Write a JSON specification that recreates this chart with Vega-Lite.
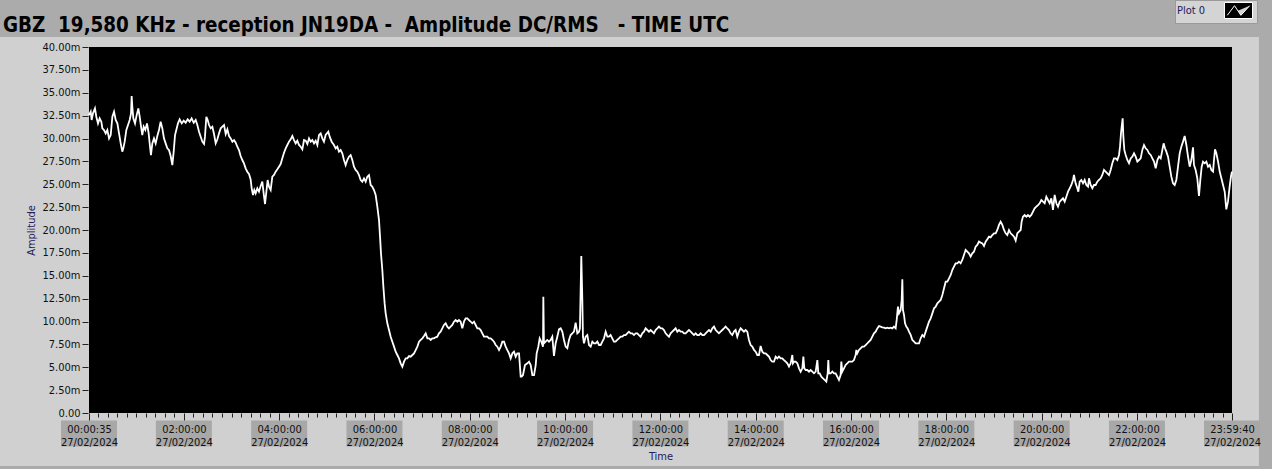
{
  "$schema": "https://vega.github.io/schema/vega-lite/v6.json",
  "width": 1143,
  "height": 366,
  "autosize": "none",
  "padding": {"left": 89, "top": 47, "right": 40, "bottom": 56},
  "background": "#ababab",
  "config": {"view": {"stroke": null}, "font": "DejaVu Sans Condensed"},
  "title": {
    "text": "GBZ\u00a0\u00a019,580 KHz - reception JN19DA -\u00a0\u00a0Amplitude DC/RMS\u00a0\u00a0\u00a0- TIME UTC",
    "anchor": "start",
    "frame": "group",
    "dx": -86,
    "dy": 53,
    "offset": 0,
    "baseline": "alphabetic",
    "fontSize": 20.4,
    "fontWeight": "bold",
    "color": "#000000",
    "font": "DejaVu Sans Condensed"
  },
  "datasets": {
    "ticks": [
      {"minute": 0.58}, {"minute": 120}, {"minute": 240}, {"minute": 360}, {"minute": 480}, {"minute": 600}, {"minute": 720},
      {"minute": 840}, {"minute": 960}, {"minute": 1080}, {"minute": 1200}, {"minute": 1320}, {"minute": 1439.67}
    ],
    "amp": [
      {"minute":0.6,"amplitude":32.56},{"minute":2.7,"amplitude":32.93},{"minute":3.9,"amplitude":32.02},{"minute":5.6,"amplitude":32.75},{"minute":8.1,"amplitude":33.29},{"minute":9.8,"amplitude":32.38},{"minute":11.9,"amplitude":31.65},{"minute":14.0,"amplitude":32.2},{"minute":16.1,"amplitude":31.84},{"minute":17.4,"amplitude":31.11},{"minute":19.5,"amplitude":30.93},{"minute":21.6,"amplitude":30.56},{"minute":23.7,"amplitude":30.93},{"minute":25.8,"amplitude":30.01},{"minute":27.9,"amplitude":30.38},{"minute":30.0,"amplitude":32.38},{"minute":32.1,"amplitude":32.93},{"minute":34.2,"amplitude":32.02},{"minute":36.3,"amplitude":31.65},{"minute":38.4,"amplitude":30.56},{"minute":40.5,"amplitude":29.47},{"minute":42.5,"amplitude":28.56},{"minute":43.8,"amplitude":28.92},{"minute":45.5,"amplitude":29.65},{"minute":47.6,"amplitude":30.93},{"minute":49.7,"amplitude":31.47},{"minute":51.8,"amplitude":32.02},{"minute":53.5,"amplitude":32.75},{"minute":54.3,"amplitude":34.64},{"minute":55.1,"amplitude":33.48},{"minute":56.4,"amplitude":32.2},{"minute":58.5,"amplitude":31.65},{"minute":60.6,"amplitude":32.56},{"minute":62.7,"amplitude":33.29},{"minute":64.4,"amplitude":32.38},{"minute":66.1,"amplitude":31.29},{"minute":67.7,"amplitude":30.38},{"minute":69.4,"amplitude":31.29},{"minute":71.5,"amplitude":30.93},{"minute":73.6,"amplitude":31.65},{"minute":75.7,"amplitude":30.56},{"minute":77.4,"amplitude":29.1},{"minute":78.6,"amplitude":28.19},{"minute":80.3,"amplitude":29.47},{"minute":82.4,"amplitude":30.01},{"minute":84.5,"amplitude":29.47},{"minute":86.6,"amplitude":30.27},{"minute":88.7,"amplitude":30.93},{"minute":90.8,"amplitude":31.84},{"minute":92.9,"amplitude":31.11},{"minute":95.0,"amplitude":30.01},{"minute":97.1,"amplitude":29.47},{"minute":99.2,"amplitude":28.92},{"minute":101.3,"amplitude":28.74},{"minute":103.4,"amplitude":28.08},{"minute":105.5,"amplitude":27.1},{"minute":107.2,"amplitude":28.56},{"minute":108.9,"amplitude":30.38},{"minute":110.5,"amplitude":30.93},{"minute":112.6,"amplitude":31.65},{"minute":114.7,"amplitude":32.09},{"minute":117.3,"amplitude":31.65},{"minute":119.8,"amplitude":31.95},{"minute":122.3,"amplitude":31.73},{"minute":124.8,"amplitude":32.09},{"minute":127.3,"amplitude":31.84},{"minute":129.8,"amplitude":32.2},{"minute":132.4,"amplitude":31.73},{"minute":134.9,"amplitude":32.02},{"minute":137.0,"amplitude":31.47},{"minute":139.1,"amplitude":30.74},{"minute":141.2,"amplitude":30.2},{"minute":143.3,"amplitude":29.65},{"minute":145.4,"amplitude":29.4},{"minute":146.6,"amplitude":30.2},{"minute":148.3,"amplitude":32.38},{"minute":150.0,"amplitude":32.02},{"minute":151.7,"amplitude":31.47},{"minute":153.8,"amplitude":31.11},{"minute":155.9,"amplitude":31.29},{"minute":158.0,"amplitude":30.49},{"minute":160.1,"amplitude":29.47},{"minute":162.2,"amplitude":29.91},{"minute":164.3,"amplitude":30.56},{"minute":166.4,"amplitude":31.11},{"minute":168.5,"amplitude":31.29},{"minute":170.6,"amplitude":31.47},{"minute":172.7,"amplitude":30.49},{"minute":174.8,"amplitude":31.0},{"minute":176.9,"amplitude":30.27},{"minute":179.0,"amplitude":30.01},{"minute":181.1,"amplitude":29.65},{"minute":183.2,"amplitude":29.83},{"minute":185.3,"amplitude":29.54},{"minute":187.3,"amplitude":29.1},{"minute":189.4,"amplitude":28.74},{"minute":191.5,"amplitude":28.08},{"minute":193.6,"amplitude":27.65},{"minute":195.7,"amplitude":27.28},{"minute":197.8,"amplitude":26.74},{"minute":199.9,"amplitude":26.37},{"minute":202.0,"amplitude":26.12},{"minute":204.1,"amplitude":25.53},{"minute":205.4,"amplitude":24.55},{"minute":207.1,"amplitude":23.82},{"minute":208.7,"amplitude":24.37},{"minute":210.4,"amplitude":24.0},{"minute":212.5,"amplitude":24.55},{"minute":214.6,"amplitude":24.19},{"minute":216.7,"amplitude":24.81},{"minute":218.8,"amplitude":25.28},{"minute":220.5,"amplitude":24.0},{"minute":222.2,"amplitude":22.84},{"minute":223.9,"amplitude":24.19},{"minute":225.5,"amplitude":25.46},{"minute":227.2,"amplitude":24.73},{"minute":229.3,"amplitude":24.37},{"minute":231.4,"amplitude":25.83},{"minute":233.5,"amplitude":26.01},{"minute":235.6,"amplitude":26.37},{"minute":237.7,"amplitude":26.63},{"minute":239.8,"amplitude":26.92},{"minute":241.9,"amplitude":27.21},{"minute":244.0,"amplitude":27.83},{"minute":246.1,"amplitude":28.45},{"minute":248.2,"amplitude":28.92},{"minute":250.3,"amplitude":29.29},{"minute":252.4,"amplitude":29.65},{"minute":254.5,"amplitude":29.91},{"minute":256.6,"amplitude":30.27},{"minute":258.7,"amplitude":29.83},{"minute":260.8,"amplitude":29.47},{"minute":262.9,"amplitude":29.76},{"minute":265.0,"amplitude":29.29},{"minute":267.1,"amplitude":29.1},{"minute":269.2,"amplitude":28.81},{"minute":271.3,"amplitude":29.83},{"minute":273.4,"amplitude":29.76},{"minute":275.5,"amplitude":29.4},{"minute":277.6,"amplitude":30.01},{"minute":279.7,"amplitude":29.65},{"minute":281.8,"amplitude":29.83},{"minute":283.9,"amplitude":29.47},{"minute":286.0,"amplitude":29.76},{"minute":288.1,"amplitude":29.29},
      {"minute":290.2,"amplitude":30.38},{"minute":292.3,"amplitude":30.56},{"minute":294.3,"amplitude":30.02},{"minute":296.4,"amplitude":29.65},{"minute":298.5,"amplitude":30.38},{"minute":301.9,"amplitude":30.74},{"minute":303.6,"amplitude":30.2},{"minute":306.1,"amplitude":29.65},{"minute":309.0,"amplitude":29.29},{"minute":311.1,"amplitude":28.92},{"minute":313.2,"amplitude":29.1},{"minute":315.3,"amplitude":28.56},{"minute":317.4,"amplitude":28.74},{"minute":319.5,"amplitude":28.38},{"minute":321.6,"amplitude":27.65},{"minute":323.7,"amplitude":27.1},{"minute":325.8,"amplitude":27.65},{"minute":327.9,"amplitude":28.01},{"minute":330.0,"amplitude":28.19},{"minute":332.1,"amplitude":27.65},{"minute":334.2,"amplitude":26.92},{"minute":336.3,"amplitude":26.56},{"minute":338.4,"amplitude":26.37},{"minute":340.5,"amplitude":26.01},{"minute":342.6,"amplitude":25.46},{"minute":344.7,"amplitude":25.28},{"minute":346.8,"amplitude":25.64},{"minute":348.9,"amplitude":25.28},{"minute":351.0,"amplitude":25.83},{"minute":353.1,"amplitude":26.01},{"minute":355.2,"amplitude":24.92},{"minute":357.3,"amplitude":24.73},{"minute":359.4,"amplitude":24.37},{"minute":361.5,"amplitude":23.82},{"minute":363.6,"amplitude":22.55},{"minute":365.7,"amplitude":21.09},{"minute":367.0,"amplitude":19.27},{"minute":368.2,"amplitude":17.45},{"minute":369.9,"amplitude":15.63},{"minute":371.2,"amplitude":13.81},{"minute":372.8,"amplitude":11.98},{"minute":374.1,"amplitude":10.89},{"minute":376.2,"amplitude":9.8},{"minute":378.3,"amplitude":9.07},{"minute":380.4,"amplitude":8.34},{"minute":382.5,"amplitude":7.79},{"minute":384.6,"amplitude":7.25},{"minute":386.7,"amplitude":6.7},{"minute":388.8,"amplitude":6.34},{"minute":390.9,"amplitude":5.97},{"minute":393.0,"amplitude":5.43},{"minute":395.1,"amplitude":5.06},{"minute":397.2,"amplitude":5.61},{"minute":399.3,"amplitude":5.97},{"minute":401.4,"amplitude":5.97},{"minute":403.5,"amplitude":6.23},{"minute":405.6,"amplitude":6.16},{"minute":407.7,"amplitude":6.34},{"minute":409.8,"amplitude":6.52},{"minute":411.9,"amplitude":6.88},{"minute":414.0,"amplitude":7.25},{"minute":416.1,"amplitude":7.79},{"minute":418.2,"amplitude":7.98},{"minute":420.3,"amplitude":8.16},{"minute":422.4,"amplitude":8.41},{"minute":424.5,"amplitude":8.7},{"minute":426.6,"amplitude":8.16},{"minute":428.7,"amplitude":8.16},{"minute":430.8,"amplitude":7.98},{"minute":432.8,"amplitude":8.16},{"minute":434.9,"amplitude":8.16},{"minute":437.0,"amplitude":8.27},{"minute":439.1,"amplitude":8.34},{"minute":441.2,"amplitude":8.7},{"minute":443.3,"amplitude":8.89},{"minute":445.4,"amplitude":9.25},{"minute":447.5,"amplitude":9.62},{"minute":449.6,"amplitude":9.8},{"minute":451.7,"amplitude":9.43},{"minute":453.8,"amplitude":9.25},{"minute":455.9,"amplitude":9.43},{"minute":458.0,"amplitude":9.62},{"minute":460.1,"amplitude":9.98},{"minute":462.2,"amplitude":10.16},{"minute":464.3,"amplitude":9.98},{"minute":466.4,"amplitude":10.16},{"minute":468.5,"amplitude":9.98},{"minute":470.6,"amplitude":9.25},{"minute":472.7,"amplitude":9.98},{"minute":474.8,"amplitude":10.34},{"minute":476.9,"amplitude":10.34},{"minute":479.0,"amplitude":10.16},{"minute":481.1,"amplitude":9.98},{"minute":483.2,"amplitude":9.8},{"minute":485.3,"amplitude":9.98},{"minute":487.4,"amplitude":9.62},{"minute":489.5,"amplitude":9.25},{"minute":491.6,"amplitude":9.25},{"minute":493.7,"amplitude":9.07},{"minute":495.8,"amplitude":8.7},{"minute":497.9,"amplitude":8.34},{"minute":500.0,"amplitude":8.34},{"minute":502.1,"amplitude":8.34},{"minute":504.2,"amplitude":8.16},{"minute":506.3,"amplitude":8.16},{"minute":508.4,"amplitude":7.98},{"minute":510.5,"amplitude":7.79},{"minute":512.6,"amplitude":7.43},{"minute":514.7,"amplitude":7.25},{"minute":516.8,"amplitude":6.88},{"minute":518.9,"amplitude":7.25},{"minute":521.0,"amplitude":7.79},{"minute":523.1,"amplitude":7.79},{"minute":525.2,"amplitude":7.25},{"minute":527.3,"amplitude":6.88},{"minute":529.4,"amplitude":6.52},{"minute":531.5,"amplitude":5.97},{"minute":533.6,"amplitude":6.52},{"minute":535.7,"amplitude":6.7},{"minute":537.8,"amplitude":6.16},{"minute":539.9,"amplitude":6.52},{"minute":542.0,"amplitude":6.52},{"minute":544.1,"amplitude":3.97},{"minute":545.3,"amplitude":3.97},{"minute":547.0,"amplitude":4.15},{"minute":549.5,"amplitude":5.24},{"minute":552.5,"amplitude":5.43},{"minute":554.6,"amplitude":5.61},{"minute":556.7,"amplitude":5.24},{"minute":558.8,"amplitude":4.15},{"minute":560.9,"amplitude":4.15},{"minute":563.0,"amplitude":5.24},{"minute":564.2,"amplitude":6.52},{"minute":566.3,"amplitude":7.25},{"minute":568.0,"amplitude":8.16},{"minute":570.1,"amplitude":7.79},{"minute":572.2,"amplitude":7.25},{"minute":572.6,"amplitude":12.71},{"minute":573.4,"amplitude":7.61},{"minute":575.5,"amplitude":7.79},{"minute":577.6,"amplitude":7.98},
      {"minute":579.7,"amplitude":7.8},{"minute":581.8,"amplitude":7.98},{"minute":583.9,"amplitude":8.34},{"minute":586.0,"amplitude":6.23},{"minute":588.1,"amplitude":7.61},{"minute":590.2,"amplitude":8.34},{"minute":592.3,"amplitude":9.14},{"minute":594.4,"amplitude":9.25},{"minute":596.5,"amplitude":8.89},{"minute":598.6,"amplitude":7.98},{"minute":600.7,"amplitude":7.25},{"minute":602.8,"amplitude":7.07},{"minute":604.9,"amplitude":7.98},{"minute":607.0,"amplitude":8.52},{"minute":609.1,"amplitude":8.71},{"minute":611.2,"amplitude":8.89},{"minute":613.3,"amplitude":9.87},{"minute":615.4,"amplitude":8.71},{"minute":617.5,"amplitude":8.89},{"minute":618.7,"amplitude":9.25},{"minute":620.4,"amplitude":17.16},{"minute":621.7,"amplitude":12.35},{"minute":622.5,"amplitude":8.34},{"minute":623.8,"amplitude":7.61},{"minute":625.9,"amplitude":8.34},{"minute":628.0,"amplitude":8.52},{"minute":630.1,"amplitude":7.43},{"minute":632.2,"amplitude":7.25},{"minute":634.3,"amplitude":7.8},{"minute":636.4,"amplitude":7.61},{"minute":638.5,"amplitude":7.61},{"minute":640.6,"amplitude":7.8},{"minute":642.7,"amplitude":7.43},{"minute":644.8,"amplitude":7.43},{"minute":646.9,"amplitude":7.8},{"minute":649.0,"amplitude":8.16},{"minute":651.1,"amplitude":8.89},{"minute":653.2,"amplitude":8.34},{"minute":655.2,"amplitude":8.34},{"minute":657.3,"amplitude":8.52},{"minute":659.4,"amplitude":8.16},{"minute":661.5,"amplitude":7.8},{"minute":663.6,"amplitude":7.8},{"minute":665.7,"amplitude":7.98},{"minute":667.8,"amplitude":8.16},{"minute":669.9,"amplitude":8.34},{"minute":672.0,"amplitude":8.34},{"minute":674.1,"amplitude":8.52},{"minute":676.2,"amplitude":8.52},{"minute":678.3,"amplitude":8.71},{"minute":680.4,"amplitude":8.89},{"minute":682.5,"amplitude":8.71},{"minute":684.6,"amplitude":8.71},{"minute":686.7,"amplitude":8.52},{"minute":688.8,"amplitude":8.71},{"minute":690.9,"amplitude":8.71},{"minute":693.0,"amplitude":8.52},{"minute":695.1,"amplitude":8.34},{"minute":697.2,"amplitude":8.71},{"minute":699.3,"amplitude":8.89},{"minute":701.4,"amplitude":9.25},{"minute":703.5,"amplitude":9.07},{"minute":705.6,"amplitude":8.89},{"minute":707.7,"amplitude":9.07},{"minute":709.8,"amplitude":8.89},{"minute":711.9,"amplitude":8.71},{"minute":714.0,"amplitude":9.07},{"minute":716.1,"amplitude":9.25},{"minute":718.2,"amplitude":9.44},{"minute":720.3,"amplitude":9.25},{"minute":722.4,"amplitude":9.25},{"minute":724.5,"amplitude":9.07},{"minute":726.6,"amplitude":8.71},{"minute":728.7,"amplitude":8.52},{"minute":730.8,"amplitude":8.34},{"minute":732.9,"amplitude":8.71},{"minute":735.0,"amplitude":8.89},{"minute":737.1,"amplitude":9.07},{"minute":739.2,"amplitude":9.25},{"minute":741.3,"amplitude":8.89},{"minute":743.4,"amplitude":9.07},{"minute":745.5,"amplitude":8.89},{"minute":747.6,"amplitude":8.89},{"minute":749.7,"amplitude":8.71},{"minute":751.8,"amplitude":8.71},{"minute":753.9,"amplitude":8.89},{"minute":756.0,"amplitude":9.07},{"minute":758.1,"amplitude":8.89},{"minute":760.2,"amplitude":8.71},{"minute":762.3,"amplitude":8.52},{"minute":764.4,"amplitude":8.71},{"minute":766.5,"amplitude":8.52},{"minute":768.6,"amplitude":8.52},{"minute":770.7,"amplitude":8.71},{"minute":772.8,"amplitude":8.52},{"minute":774.9,"amplitude":8.52},{"minute":777.0,"amplitude":8.71},{"minute":779.1,"amplitude":8.89},{"minute":781.2,"amplitude":9.07},{"minute":783.3,"amplitude":8.89},{"minute":785.4,"amplitude":9.25},{"minute":787.5,"amplitude":9.44},{"minute":789.6,"amplitude":9.07},{"minute":791.6,"amplitude":8.89},{"minute":793.7,"amplitude":8.71},{"minute":795.8,"amplitude":8.89},{"minute":797.9,"amplitude":9.07},{"minute":800.0,"amplitude":9.25},{"minute":802.1,"amplitude":9.44},{"minute":804.2,"amplitude":9.25},{"minute":806.3,"amplitude":9.07},{"minute":808.4,"amplitude":8.71},{"minute":810.5,"amplitude":8.52},{"minute":812.6,"amplitude":8.89},{"minute":814.7,"amplitude":9.07},{"minute":816.8,"amplitude":8.34},{"minute":818.9,"amplitude":8.89},{"minute":821.0,"amplitude":9.25},{"minute":823.1,"amplitude":9.07},{"minute":825.2,"amplitude":8.89},{"minute":827.3,"amplitude":9.07},{"minute":829.4,"amplitude":8.89},{"minute":831.5,"amplitude":7.98},{"minute":833.6,"amplitude":7.43},{"minute":835.7,"amplitude":7.25},{"minute":837.8,"amplitude":6.89},{"minute":839.9,"amplitude":6.7},{"minute":842.0,"amplitude":6.34},{"minute":844.1,"amplitude":6.34},{"minute":846.2,"amplitude":7.32},{"minute":848.3,"amplitude":6.7},{"minute":850.4,"amplitude":6.52},{"minute":852.5,"amplitude":6.52},{"minute":854.6,"amplitude":6.34},{"minute":856.7,"amplitude":6.16},{"minute":858.8,"amplitude":5.79},{"minute":860.9,"amplitude":5.61},{"minute":863.0,"amplitude":5.61},{"minute":865.1,"amplitude":6.16},{"minute":867.2,"amplitude":5.97},
      {"minute":869.3,"amplitude":6.16},{"minute":871.4,"amplitude":5.98},{"minute":873.5,"amplitude":5.98},{"minute":875.6,"amplitude":5.79},{"minute":877.7,"amplitude":5.61},{"minute":879.8,"amplitude":5.43},{"minute":881.9,"amplitude":5.07},{"minute":884.0,"amplitude":5.43},{"minute":886.1,"amplitude":6.34},{"minute":886.9,"amplitude":5.43},{"minute":888.2,"amplitude":5.61},{"minute":890.3,"amplitude":5.61},{"minute":892.4,"amplitude":5.43},{"minute":894.5,"amplitude":4.88},{"minute":896.6,"amplitude":4.52},{"minute":898.7,"amplitude":4.88},{"minute":900.0,"amplitude":6.16},{"minute":901.2,"amplitude":4.88},{"minute":902.9,"amplitude":4.7},{"minute":905.0,"amplitude":4.7},{"minute":907.1,"amplitude":4.52},{"minute":909.2,"amplitude":4.7},{"minute":911.3,"amplitude":4.52},{"minute":913.4,"amplitude":4.34},{"minute":915.5,"amplitude":4.52},{"minute":917.6,"amplitude":5.79},{"minute":918.8,"amplitude":4.34},{"minute":920.5,"amplitude":4.34},{"minute":922.6,"amplitude":3.97},{"minute":924.7,"amplitude":3.79},{"minute":926.8,"amplitude":3.61},{"minute":928.9,"amplitude":3.43},{"minute":930.6,"amplitude":4.34},{"minute":931.4,"amplitude":5.79},{"minute":932.3,"amplitude":4.34},{"minute":934.4,"amplitude":4.34},{"minute":936.5,"amplitude":4.52},{"minute":938.5,"amplitude":4.34},{"minute":940.6,"amplitude":4.34},{"minute":942.7,"amplitude":3.97},{"minute":944.8,"amplitude":3.61},{"minute":946.9,"amplitude":4.15},{"minute":947.8,"amplitude":5.61},{"minute":949.0,"amplitude":4.52},{"minute":951.1,"amplitude":4.88},{"minute":953.2,"amplitude":5.25},{"minute":955.3,"amplitude":5.43},{"minute":957.4,"amplitude":5.61},{"minute":959.5,"amplitude":5.61},{"minute":961.6,"amplitude":5.61},{"minute":963.7,"amplitude":5.79},{"minute":965.8,"amplitude":6.34},{"minute":966.7,"amplitude":6.89},{"minute":967.9,"amplitude":6.52},{"minute":970.0,"amplitude":6.89},{"minute":972.1,"amplitude":7.07},{"minute":974.2,"amplitude":7.25},{"minute":976.3,"amplitude":7.25},{"minute":978.4,"amplitude":7.43},{"minute":980.5,"amplitude":7.61},{"minute":982.6,"amplitude":7.8},{"minute":984.7,"amplitude":7.98},{"minute":986.8,"amplitude":8.34},{"minute":988.9,"amplitude":8.71},{"minute":991.0,"amplitude":8.89},{"minute":993.1,"amplitude":9.25},{"minute":995.2,"amplitude":9.51},{"minute":997.3,"amplitude":9.44},{"minute":999.4,"amplitude":9.36},{"minute":1001.5,"amplitude":9.33},{"minute":1003.6,"amplitude":9.25},{"minute":1005.7,"amplitude":9.33},{"minute":1007.8,"amplitude":9.25},{"minute":1009.9,"amplitude":9.33},{"minute":1012.0,"amplitude":9.25},{"minute":1014.1,"amplitude":9.44},{"minute":1016.2,"amplitude":9.25},{"minute":1017.5,"amplitude":10.17},{"minute":1019.1,"amplitude":11.62},{"minute":1020.4,"amplitude":10.89},{"minute":1022.5,"amplitude":11.26},{"minute":1023.8,"amplitude":12.35},{"minute":1024.6,"amplitude":14.61},{"minute":1025.4,"amplitude":11.26},{"minute":1026.7,"amplitude":10.71},{"minute":1028.0,"amplitude":9.8},{"minute":1029.6,"amplitude":9.44},{"minute":1031.3,"amplitude":9.25},{"minute":1033.0,"amplitude":8.89},{"minute":1035.1,"amplitude":8.53},{"minute":1037.2,"amplitude":7.98},{"minute":1039.3,"amplitude":7.8},{"minute":1041.4,"amplitude":7.61},{"minute":1043.5,"amplitude":7.61},{"minute":1045.6,"amplitude":7.61},{"minute":1047.7,"amplitude":8.16},{"minute":1049.8,"amplitude":8.53},{"minute":1051.9,"amplitude":8.34},{"minute":1054.0,"amplitude":8.89},{"minute":1056.1,"amplitude":9.44},{"minute":1058.2,"amplitude":9.98},{"minute":1060.3,"amplitude":10.35},{"minute":1062.4,"amplitude":10.89},{"minute":1064.5,"amplitude":11.44},{"minute":1066.6,"amplitude":11.62},{"minute":1068.7,"amplitude":11.99},{"minute":1070.8,"amplitude":12.17},{"minute":1072.9,"amplitude":12.35},{"minute":1075.0,"amplitude":12.9},{"minute":1077.1,"amplitude":13.63},{"minute":1079.2,"amplitude":14.35},{"minute":1081.3,"amplitude":14.35},{"minute":1083.4,"amplitude":14.72},{"minute":1085.5,"amplitude":15.08},{"minute":1087.5,"amplitude":15.63},{"minute":1089.6,"amplitude":15.99},{"minute":1091.7,"amplitude":16.36},{"minute":1093.8,"amplitude":16.36},{"minute":1095.9,"amplitude":16.54},{"minute":1098.0,"amplitude":16.36},{"minute":1100.1,"amplitude":16.72},{"minute":1102.2,"amplitude":17.27},{"minute":1104.3,"amplitude":17.82},{"minute":1106.4,"amplitude":17.63},{"minute":1108.5,"amplitude":17.45},{"minute":1110.6,"amplitude":17.09},{"minute":1112.7,"amplitude":17.45},{"minute":1114.8,"amplitude":17.63},{"minute":1116.9,"amplitude":18.18},{"minute":1119.0,"amplitude":18.36},{"minute":1121.1,"amplitude":18.73},{"minute":1123.2,"amplitude":18.62},{"minute":1125.3,"amplitude":18.54},{"minute":1127.4,"amplitude":18.25},{"minute":1129.5,"amplitude":18.73},{"minute":1131.6,"amplitude":18.98},{"minute":1133.7,"amplitude":19.27},{"minute":1135.8,"amplitude":19.2},{"minute":1137.9,"amplitude":19.45},{"minute":1140.0,"amplitude":19.64},{"minute":1142.1,"amplitude":19.64},{"minute":1144.2,"amplitude":20.0},{"minute":1146.3,"amplitude":20.55},{"minute":1148.4,"amplitude":20.91},{"minute":1150.5,"amplitude":20.55},{"minute":1152.6,"amplitude":20.0},{"minute":1154.7,"amplitude":19.64},{"minute":1156.8,"amplitude":19.45},
      {"minute":1158.9,"amplitude":20.0},{"minute":1161.0,"amplitude":19.64},{"minute":1163.1,"amplitude":19.46},{"minute":1165.2,"amplitude":19.27},{"minute":1167.3,"amplitude":18.84},{"minute":1169.4,"amplitude":19.64},{"minute":1171.5,"amplitude":19.82},{"minute":1173.6,"amplitude":20.0},{"minute":1174.8,"amplitude":20.91},{"minute":1176.5,"amplitude":21.46},{"minute":1178.6,"amplitude":21.64},{"minute":1180.7,"amplitude":21.46},{"minute":1182.8,"amplitude":21.64},{"minute":1184.9,"amplitude":21.46},{"minute":1187.0,"amplitude":21.64},{"minute":1189.1,"amplitude":22.01},{"minute":1191.2,"amplitude":22.37},{"minute":1193.3,"amplitude":22.55},{"minute":1195.4,"amplitude":22.73},{"minute":1197.5,"amplitude":22.92},{"minute":1199.6,"amplitude":23.28},{"minute":1201.7,"amplitude":23.1},{"minute":1203.8,"amplitude":22.92},{"minute":1205.9,"amplitude":23.64},{"minute":1208.0,"amplitude":23.28},{"minute":1210.1,"amplitude":22.92},{"minute":1212.2,"amplitude":23.46},{"minute":1214.3,"amplitude":22.19},{"minute":1216.4,"amplitude":23.83},{"minute":1218.5,"amplitude":22.92},{"minute":1220.6,"amplitude":22.55},{"minute":1222.7,"amplitude":23.1},{"minute":1224.8,"amplitude":23.28},{"minute":1226.9,"amplitude":23.46},{"minute":1229.0,"amplitude":23.1},{"minute":1231.1,"amplitude":23.64},{"minute":1233.2,"amplitude":24.19},{"minute":1235.3,"amplitude":24.56},{"minute":1237.4,"amplitude":24.92},{"minute":1239.5,"amplitude":25.47},{"minute":1240.7,"amplitude":26.01},{"minute":1242.8,"amplitude":25.1},{"minute":1244.9,"amplitude":24.56},{"minute":1246.2,"amplitude":24.19},{"minute":1247.9,"amplitude":25.28},{"minute":1250.0,"amplitude":25.47},{"minute":1252.1,"amplitude":25.1},{"minute":1254.2,"amplitude":25.47},{"minute":1256.3,"amplitude":24.92},{"minute":1258.4,"amplitude":24.74},{"minute":1259.6,"amplitude":25.65},{"minute":1261.7,"amplitude":24.92},{"minute":1263.8,"amplitude":24.56},{"minute":1265.9,"amplitude":24.92},{"minute":1268.0,"amplitude":24.92},{"minute":1270.1,"amplitude":25.28},{"minute":1272.2,"amplitude":25.47},{"minute":1274.3,"amplitude":25.65},{"minute":1276.4,"amplitude":26.01},{"minute":1278.5,"amplitude":26.56},{"minute":1280.6,"amplitude":26.38},{"minute":1282.7,"amplitude":26.2},{"minute":1284.8,"amplitude":26.01},{"minute":1286.9,"amplitude":26.56},{"minute":1289.0,"amplitude":27.29},{"minute":1291.1,"amplitude":27.83},{"minute":1293.2,"amplitude":27.83},{"minute":1295.3,"amplitude":27.65},{"minute":1297.4,"amplitude":28.2},{"minute":1298.7,"amplitude":29.11},{"minute":1299.9,"amplitude":30.57},{"minute":1300.8,"amplitude":31.3},{"minute":1302.0,"amplitude":32.21},{"minute":1302.9,"amplitude":30.2},{"minute":1304.1,"amplitude":28.75},{"minute":1305.8,"amplitude":28.2},{"minute":1307.9,"amplitude":27.65},{"minute":1310.0,"amplitude":27.29},{"minute":1312.1,"amplitude":27.83},{"minute":1314.2,"amplitude":28.02},{"minute":1316.3,"amplitude":28.38},{"minute":1318.4,"amplitude":28.02},{"minute":1320.5,"amplitude":27.47},{"minute":1322.6,"amplitude":27.65},{"minute":1324.7,"amplitude":27.83},{"minute":1326.8,"amplitude":28.75},{"minute":1328.9,"amplitude":29.29},{"minute":1331.0,"amplitude":28.93},{"minute":1333.1,"amplitude":28.75},{"minute":1335.2,"amplitude":28.38},{"minute":1337.3,"amplitude":28.2},{"minute":1339.4,"amplitude":27.83},{"minute":1341.5,"amplitude":27.47},{"minute":1343.6,"amplitude":26.74},{"minute":1345.7,"amplitude":27.65},{"minute":1347.8,"amplitude":28.02},{"minute":1349.9,"amplitude":27.83},{"minute":1352.0,"amplitude":28.75},{"minute":1353.6,"amplitude":29.47},{"minute":1355.3,"amplitude":28.93},{"minute":1357.0,"amplitude":28.56},{"minute":1359.1,"amplitude":28.02},{"minute":1361.2,"amplitude":26.92},{"minute":1363.3,"amplitude":25.83},{"minute":1365.4,"amplitude":25.1},{"minute":1367.5,"amplitude":24.92},{"minute":1369.6,"amplitude":25.47},{"minute":1371.7,"amplitude":26.92},{"minute":1373.8,"amplitude":28.38},{"minute":1375.9,"amplitude":29.11},{"minute":1378.0,"amplitude":29.66},{"minute":1380.1,"amplitude":30.28},{"minute":1382.2,"amplitude":29.29},{"minute":1384.3,"amplitude":28.02},{"minute":1386.4,"amplitude":26.92},{"minute":1388.5,"amplitude":27.65},{"minute":1390.6,"amplitude":29.04},{"minute":1391.8,"amplitude":27.11},{"minute":1393.9,"amplitude":26.56},{"minute":1396.0,"amplitude":25.65},{"minute":1398.1,"amplitude":23.72},{"minute":1399.8,"amplitude":25.47},{"minute":1401.5,"amplitude":26.92},{"minute":1403.2,"amplitude":27.47},{"minute":1405.3,"amplitude":27.29},{"minute":1407.4,"amplitude":27.47},{"minute":1409.5,"amplitude":26.92},{"minute":1411.6,"amplitude":27.11},{"minute":1413.7,"amplitude":26.56},{"minute":1415.8,"amplitude":26.38},{"minute":1417.0,"amplitude":27.65},{"minute":1418.3,"amplitude":28.82},{"minute":1420.0,"amplitude":28.38},{"minute":1422.1,"amplitude":27.47},{"minute":1424.2,"amplitude":26.38},{"minute":1426.3,"amplitude":25.65},{"minute":1428.4,"amplitude":24.92},{"minute":1430.5,"amplitude":24.19},{"minute":1432.5,"amplitude":22.26},{"minute":1434.6,"amplitude":23.1},{"minute":1436.7,"amplitude":24.74},{"minute":1438.5,"amplitude":25.9},{"minute":1439.6,"amplitude":26.38}
    ]
  },
  "layer": [
    {
      "data": {"values": [{}]},
      "mark": {"type": "rect", "color": "#d0d0d0"},
      "encoding": {
        "x": {"datum": -111.5, "type": "quantitative"},
        "x2": {"datum": 1473.6},
        "y": {"datum": 41.09, "type": "quantitative"},
        "y2": {"datum": -5.79}
      }
    },
    {
      "data": {"values": [{}]},
      "mark": {"type": "rect", "color": "#000000"},
      "encoding": {
        "x": {"datum": 0.58, "type": "quantitative"},
        "x2": {"datum": 1439.67},
        "y": {"datum": 0, "type": "quantitative"},
        "y2": {"datum": 40}
      }
    },
    {
      "data": {"name": "ticks"},
      "mark": {"type": "bar", "width": 56, "color": "#a8a8a8"},
      "encoding": {
        "x": {"field": "minute", "type": "quantitative"},
        "y": {"datum": -0.81, "type": "quantitative"},
        "y2": {"datum": -3.65}
      }
    },
    {
      "data": {"name": "amp"},
      "mark": {"type": "line", "strokeWidth": 1.8, "interpolate": "linear"},
      "encoding": {
        "x": {
          "field": "minute",
          "type": "quantitative",
          "title": "Time",
          "scale": {"domain": [0.58, 1439.67], "nice": false, "zero": false, "padding": 0},
          "axis": {
            "zindex": 1,
            "domain": false,
            "grid": false,
            "tickCount": 500,
            "values": [0.58,12,24,36,48,60,72,84,96,108,120,132,144,156,168,180,192,204,216,228,240,252,264,276,288,300,312,324,336,348,360,372,384,396,408,420,432,444,456,468,480,492,504,516,528,540,552,564,576,588,600,612,624,636,648,660,672,684,696,708,720,732,744,756,768,780,792,804,816,828,840,852,864,876,888,900,912,924,936,948,960,972,984,996,1008,1020,1032,1044,1056,1068,1080,1092,1104,1116,1128,1140,1152,1164,1176,1188,1200,1212,1224,1236,1248,1260,1272,1284,1296,1308,1320,1332,1344,1356,1368,1380,1392,1404,1416,1428,1439.67],
            "labelExpr": "datum.value < 1 ? ['00:00:35', '27/02/2024'] : (datum.value > 1439 ? ['23:59:40', '27/02/2024'] : (datum.value % 120 == 0 ? [(datum.value < 600 ? '0' : '') + (datum.value / 60) + ':00:00', '27/02/2024'] : ''))",
            "tickSize": {"condition": {"test": "datum.value < 1 || datum.value > 1439 || datum.value % 120 == 0", "value": 7}, "value": 4},
            "tickColor": "#222222",
            "labelOverlap": false,
            "labelBound": false,
            "labelFlush": false,
            "labelFontSize": 11,
            "labelColor": "#111111",
            "labelLineHeight": 13.5,
            "labelBaseline": "top",
            "labelPadding": 3,
            "titleFontSize": 11,
            "titleFontWeight": "normal",
            "titleColor": "#20205a",
            "titlePadding": 3
          }
        },
        "y": {
          "field": "amplitude",
          "type": "quantitative",
          "title": "Amplitude",
          "scale": {"domain": [0, 40], "nice": false, "padding": 0},
          "axis": {
            "zindex": 1,
            "domain": false,
            "grid": false,
            "tickCount": 50,
            "values": [0, 2.5, 5, 7.5, 10, 12.5, 15, 17.5, 20, 22.5, 25, 27.5, 30, 32.5, 35, 37.5, 40],
            "labelExpr": "datum.value == 0 ? '0.00' : format(datum.value, '.2f') + 'm'",
            "offset": 1,
            "tickSize": 6,
            "tickColor": "#222222",
            "labelPadding": 2,
            "labelFontSize": 11,
            "labelColor": "#111111",
            "labelOverlap": false,
            "labelBound": false,
            "titleFontSize": 11,
            "titleFontWeight": "normal",
            "titleColor": "#20205a",
            "titlePadding": 6
          }
        },
        "color": {
          "datum": "Plot 0",
          "type": "nominal",
          "scale": {"range": ["#ffffff"]},
          "legend": {
            "orient": "none",
            "legendX": 1086,
            "legendY": -47,
            "title": "Plot 0",
            "titleOrient": "left",
            "titleFontSize": 11,
            "titleFontWeight": "normal",
            "titleColor": "#20205a",
            "titlePadding": 24,
            "labelExpr": "''",
            "labelOffset": 0,
            "symbolSize": 256,
            "fillColor": "#d4d4d4",
            "strokeColor": "#9a9a9a",
            "padding": 2,
            "symbolType": "M-1.75,-1H1.75V1H-1.75Z M-1.4,0.6L-0.5,-0.6L0.3,0.6L1.4,-0.6",
            "symbolFillColor": "#000000",
            "symbolStrokeColor": "#ffffff",
            "symbolStrokeWidth": 1,
            "encode": {"symbols": {"update": {"fill": {"value": "#000000"}, "stroke": {"value": "#ffffff"}, "fillOpacity": {"value": 1}}}}
          }
        }
      }
    }
  ]
}
